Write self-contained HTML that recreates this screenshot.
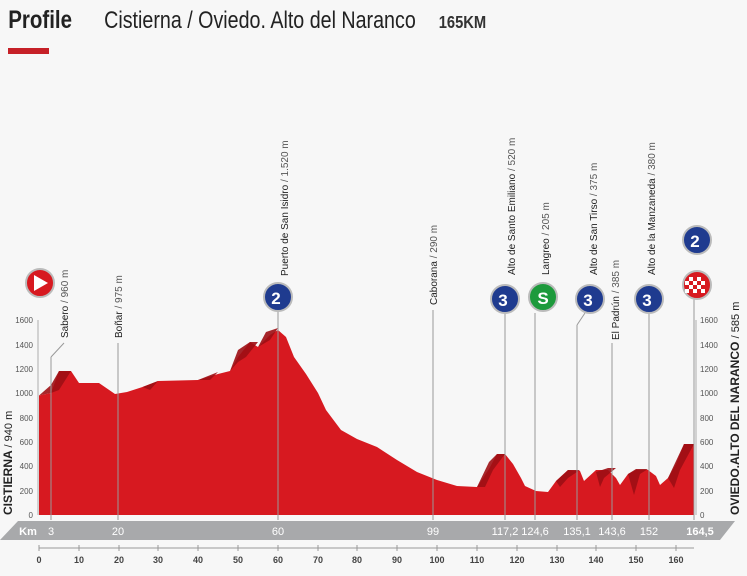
<!DOCTYPE html>
<html><head><meta charset="utf-8"><style>
body{margin:0;background:#f7f7f7;width:747px;height:571px;overflow:hidden;font-family:"Liberation Sans",sans-serif}
</style></head><body>
<svg width="747" height="571" viewBox="0 0 747 571" xmlns="http://www.w3.org/2000/svg" font-family="Liberation Sans, sans-serif">
<rect width="747" height="571" fill="#f7f7f7"/>
<g transform="scale(0.82,1)">
<text x="10" y="28" font-size="25" font-weight="bold" fill="#222">Profile</text>
<text x="127" y="28" font-size="24" fill="#222">Cistierna / Oviedo. Alto del Naranco</text>
<text x="535" y="28" font-size="18" font-weight="bold" fill="#333">165KM</text>
</g>
<rect x="8" y="48" width="41" height="6" fill="#c62027"/>
<!-- profile -->
<polygon fill="#d71920" points="39,515 39,395.5 51,393 59,371 71,371 79,383 99,383 115,394 127,392 142.5,387 158,381 198,380 218,374 230,371 238,357 250,342 258,347 270,335 278,330 286,337 294,357 306,374 318,393 326,410 341,430 357,439 377,447 397,460 417,472 437,480 457,486 477,487 489,469 497,454 505,454 513,464 521,478 525,486 536,491 548,492 556,481 568,470 580,471 584,481 596,470 608,470 616,478 620,485 628,474 636,470 648,470 656,476 660,485 668,478 676,464 684,444 694,444 694,515"/>
<g fill="#9e0f14" opacity="0.9">
<polygon points="39,395.5 51,385 59,371 71,371 59,390 51,393"/>
<polygon points="230,371 238,350 250,342 258,342 246,357 238,362"/>
<polygon points="258,347 266,332 278,328 270,340"/>
<polygon points="477,487 489,462 497,454 505,454 493,470 485,487"/>
<polygon points="556,481 568,470 580,470 568,478 560,487"/>
<polygon points="596,472 608,468 616,468 604,478 600,487"/>
<polygon points="628,474 636,469 648,469 640,474 634,495"/>
<polygon points="668,478 684,444 694,444 680,470 674,488"/>
<polygon points="142.5,387 158,381 150,390"/>
<polygon points="198,380 218,372 210,380"/>
</g>
<!-- axes left -->
<g font-size="8" fill="#555" text-anchor="end">
<text x="33" y="518">0</text><text x="33" y="494">200</text><text x="33" y="469">400</text><text x="33" y="445">600</text><text x="33" y="421">800</text><text x="33" y="396">1000</text><text x="33" y="372">1200</text><text x="33" y="348">1400</text><text x="33" y="323">1600</text>
</g>
<g font-size="8" fill="#555">
<text x="700" y="518">0</text><text x="700" y="494">200</text><text x="700" y="469">400</text><text x="700" y="445">600</text><text x="700" y="421">800</text><text x="700" y="396">1000</text><text x="700" y="372">1200</text><text x="700" y="348">1400</text><text x="700" y="323">1600</text>
</g>
<line x1="38" y1="320" x2="38" y2="515" stroke="#999" stroke-width="0.8"/>
<line x1="696" y1="320" x2="696" y2="515" stroke="#999" stroke-width="0.8"/>
<text transform="translate(12,515) rotate(-90)" font-size="12" font-weight="bold" fill="#222">CISTIERNA <tspan font-weight="normal" font-size="11">/ 940 m</tspan></text>
<text transform="translate(739,515) rotate(-90)" font-size="12" font-weight="bold" fill="#222">OVIEDO.ALTO DEL NARANCO <tspan font-weight="normal" font-size="11">/ 585 m</tspan></text>
<!-- marker lines -->
<g stroke="#999" stroke-width="1">
<line x1="51" y1="357" x2="51" y2="520"/><line x1="51" y1="357" x2="64" y2="343"/>
<line x1="118" y1="343" x2="118" y2="520"/>
<line x1="278" y1="310" x2="278" y2="520"/>
<line x1="433" y1="310" x2="433" y2="520"/>
<line x1="505" y1="313" x2="505" y2="520"/>
<line x1="535" y1="313" x2="535" y2="520"/>
<line x1="577" y1="325" x2="577" y2="520"/><line x1="577" y1="325" x2="585" y2="313"/>
<line x1="612" y1="343" x2="612" y2="520"/>
<line x1="649" y1="313" x2="649" y2="520"/>
<line x1="694" y1="298" x2="694" y2="520"/>
</g>
<g font-size="10" fill="#222">
<text transform="translate(68,338) rotate(-90)">Sabero <tspan fill="#555">/ 960 m</tspan></text>
<text transform="translate(122,338) rotate(-90)">Boñar <tspan fill="#555">/ 975 m</tspan></text>
<text transform="translate(288,276) rotate(-90)">Puerto de San Isidro <tspan fill="#555">/ 1.520 m</tspan></text>
<text transform="translate(437,305) rotate(-90)">Caborana <tspan fill="#555">/ 290 m</tspan></text>
<text transform="translate(515,275) rotate(-90)">Alto de Santo Emiliano <tspan fill="#555">/ 520 m</tspan></text>
<text transform="translate(549,275) rotate(-90)">Langreo <tspan fill="#555">/ 205 m</tspan></text>
<text transform="translate(597,275) rotate(-90)">Alto de San Tirso <tspan fill="#555">/ 375 m</tspan></text>
<text transform="translate(619,340) rotate(-90)">El Padrún <tspan fill="#555">/ 385 m</tspan></text>
<text transform="translate(655,275) rotate(-90)">Alto de la Manzaneda <tspan fill="#555">/ 380 m</tspan></text>
</g>
<!-- icons -->
<g stroke="#bbb" stroke-width="2">
<circle cx="40" cy="283" r="14" fill="#d71920"/>
<circle cx="278" cy="297" r="14" fill="#1f3b8f"/>
<circle cx="505" cy="299" r="14" fill="#1f3b8f"/>
<circle cx="543" cy="297" r="14" fill="#1d9a3c"/>
<circle cx="590" cy="299" r="14" fill="#1f3b8f"/>
<circle cx="649" cy="299" r="14" fill="#1f3b8f"/>
<circle cx="697" cy="240" r="14" fill="#1f3b8f"/>
<circle cx="697" cy="285" r="14" fill="#d71920"/>
</g>
<polygon points="34,275 34,291 48,283" fill="#fff"/>
<g fill="#fff" font-weight="bold" font-size="17" text-anchor="middle">
<text x="276" y="304">2</text><text x="503" y="306">3</text><text x="543" y="304">S</text><text x="588" y="306">3</text><text x="647" y="306">3</text><text x="695" y="247">2</text>
</g>
<g fill="#fff">
<rect x="689" y="277" width="4" height="4"/><rect x="697" y="277" width="4" height="4"/><rect x="693" y="281" width="4" height="4"/><rect x="701" y="281" width="4" height="4"/><rect x="689" y="285" width="4" height="4"/><rect x="697" y="285" width="4" height="4"/><rect x="693" y="289" width="4" height="4"/><rect x="701" y="289" width="4" height="4"/><rect x="685" y="281" width="4" height="4"/><rect x="685" y="289" width="4" height="4"/>
</g>
<!-- km band -->
<polygon points="18,521 735,521 720,540 0,540" fill="#a8a9ab"/>
<g font-size="11" fill="#fff" text-anchor="middle">
<text x="28" y="535" font-weight="bold">Km</text>
<text x="51" y="535">3</text><text x="118" y="535">20</text><text x="278" y="535">60</text><text x="433" y="535">99</text><text x="505" y="535">117,2</text><text x="535" y="535">124,6</text><text x="577" y="535">135,1</text><text x="612" y="535">143,6</text><text x="649" y="535">152</text><text x="700" y="535" font-weight="bold">164,5</text>
</g>
<!-- bottom axis -->
<line x1="39" y1="548" x2="694" y2="548" stroke="#999" stroke-width="1"/>
<g stroke="#999"><line x1="39" y1="545" x2="39" y2="551"/><line x1="79" y1="545" x2="79" y2="551"/><line x1="119" y1="545" x2="119" y2="551"/><line x1="158" y1="545" x2="158" y2="551"/><line x1="198" y1="545" x2="198" y2="551"/><line x1="238" y1="545" x2="238" y2="551"/><line x1="278" y1="545" x2="278" y2="551"/><line x1="318" y1="545" x2="318" y2="551"/><line x1="357" y1="545" x2="357" y2="551"/><line x1="397" y1="545" x2="397" y2="551"/><line x1="437" y1="545" x2="437" y2="551"/><line x1="477" y1="545" x2="477" y2="551"/><line x1="517" y1="545" x2="517" y2="551"/><line x1="557" y1="545" x2="557" y2="551"/><line x1="596" y1="545" x2="596" y2="551"/><line x1="636" y1="545" x2="636" y2="551"/><line x1="676" y1="545" x2="676" y2="551"/></g>
<g font-size="9" fill="#444" text-anchor="middle" font-weight="bold">
<text x="39" y="563">0</text><text x="79" y="563">10</text><text x="119" y="563">20</text><text x="158" y="563">30</text><text x="198" y="563">40</text><text x="238" y="563">50</text><text x="278" y="563">60</text><text x="318" y="563">70</text><text x="357" y="563">80</text><text x="397" y="563">90</text><text x="437" y="563">100</text><text x="477" y="563">110</text><text x="517" y="563">120</text><text x="557" y="563">130</text><text x="596" y="563">140</text><text x="636" y="563">150</text><text x="676" y="563">160</text>
</g>
</svg>
</body></html>
